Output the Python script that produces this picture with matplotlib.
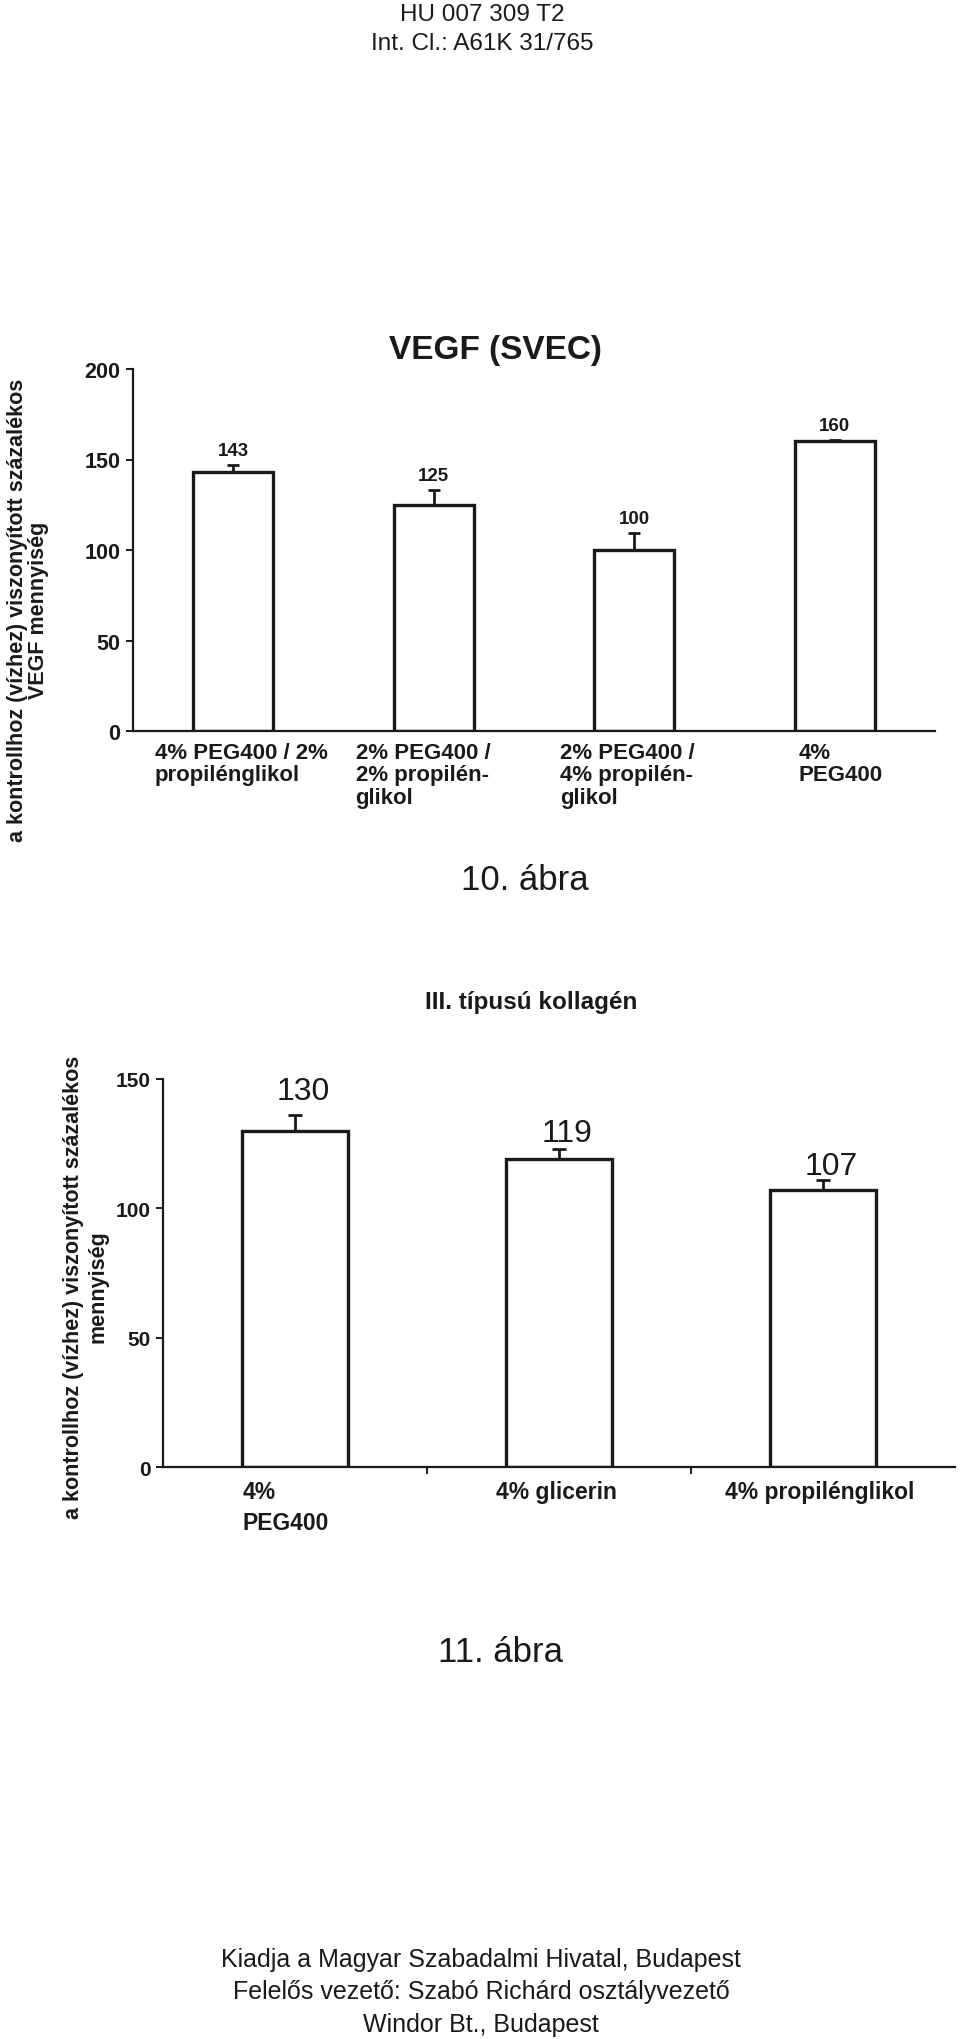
import matplotlib
matplotlib.use("Agg")
import matplotlib.pyplot as plt
import numpy as np

# --- data -------------------------------------------------------------
HEADER = ["HU 007 309 T2", "Int. Cl.: A61K 31/765"]
FOOTER = ["Kiadja a Magyar Szabadalmi Hivatal, Budapest",
          "Felelős vezető: Szabó Richárd osztályvezető",
          "Windor Bt., Budapest"]

TITLE1 = "VEGF (SVEC)"
YLABEL1 = "a kontrollhoz (vízhez) viszonyított százalékos\nVEGF mennyiség"
CATS1 = ["4% PEG400 / 2%\npropilénglikol",
         "2% PEG400 /\n2% propilén-\nglikol",
         "2% PEG400 /\n4% propilén-\nglikol",
         "4%\nPEG400"]
VEGF = [143, 125, 100, 160]
VEGF_ERR = [4, 8, 9.5, 1]
YTICKS1 = [0, 50, 100, 150, 200]
CAPTION1 = "10. ábra"

TITLE2 = "III. típusú kollagén"
YLABEL2 = "a kontrollhoz (vízhez) viszonyított százalékos\nmennyiség"
CATS2 = ["4%\nPEG400", "4% glicerin", "4% propilénglikol"]
COLL = [130, 119, 107]
COLL_ERR = [6, 4, 4]
YTICKS2 = [0, 50, 100, 150]
CAPTION2 = "11. ábra"

# --- style ------------------------------------------------------------
INK = "#1a1a1a"
SANS = ["Liberation Sans", "DejaVu Sans"]
W, H = 960, 2040


def fx(px):
    return px / W


def fy(py):
    return 1 - py / H


fig = plt.figure(figsize=(W / 100, H / 100), dpi=100)

for txt, y in zip(HEADER, [15, 44]):
    fig.text(fx(482), fy(y), txt, ha="center", va="center",
             fontsize=17.5, family=SANS, color=INK)
for txt, y in zip(FOOTER, [1960, 1992, 2025]):
    fig.text(fx(481), fy(y), txt, ha="center", va="center",
             fontsize=18, family=SANS, color=INK)


def style_axes(ax):
    for s in ("top", "right"):
        ax.spines[s].set_visible(False)
    for s in ("left", "bottom"):
        ax.spines[s].set_linewidth(1.6)
        ax.spines[s].set_color(INK)
    ax.tick_params(axis="y", direction="out", length=5, width=1.4,
                   colors=INK, pad=4)


# --- figure 10: VEGF --------------------------------------------------
ax1 = fig.add_axes([fx(133), fy(732), fx(935) - fx(133), (732 - 370) / H])
x1 = np.arange(len(VEGF))
ax1.bar(x1, VEGF, width=0.4, color="white", edgecolor=INK, linewidth=2.4,
        zorder=2)
ax1.errorbar(x1, VEGF, yerr=[np.zeros(len(VEGF)), VEGF_ERR], fmt="none",
             ecolor=INK, elinewidth=2.0, capsize=4.5, capthick=2.0, zorder=3)
for xi, v, e in zip(x1, VEGF, VEGF_ERR):
    ax1.text(xi, v + e + 8, str(v), ha="center", va="center",
             fontsize=13.5, fontweight="bold", family=SANS, color=INK)
ax1.set_xlim(-0.5, 3.5)
ax1.set_ylim(0, 200)
ax1.set_yticks(YTICKS1)
ax1.set_yticklabels([str(t) for t in YTICKS1], fontsize=15.5,
                    fontweight="bold", family=SANS, color=INK)
ax1.set_xticks([])
style_axes(ax1)

shift1 = [-0.39, -0.39, -0.37, -0.18]
for xi, lab, dx in zip(x1, CATS1, shift1):
    ax1.annotate(lab, xy=(xi + dx, 0), xycoords=("data", "axes fraction"),
                 xytext=(0, -11), textcoords="offset pixels",
                 ha="left", va="top", fontsize=16, fontweight="bold",
                 family=SANS, color=INK, linespacing=1.08)

fig.text(fx(495), fy(350), TITLE1, ha="center", va="center", fontsize=24,
         fontweight="bold", family=SANS, color=INK)
fig.text(fx(28), fy(610), YLABEL1, ha="center", va="center", rotation=90,
         fontsize=15.5, fontweight="bold", family=SANS, color=INK,
         linespacing=1.0, multialignment="center")
fig.text(fx(525), fy(881), CAPTION1, ha="center", va="center", fontsize=25,
         family=SANS, color=INK)

# --- figure 11: collagen III ------------------------------------------
ax2 = fig.add_axes([fx(163), fy(1468), fx(955) - fx(163), (1468 - 1080) / H])
x2 = np.arange(len(COLL))
ax2.bar(x2, COLL, width=0.4, color="white", edgecolor=INK, linewidth=2.4,
        zorder=2)
ax2.errorbar(x2, COLL, yerr=[np.zeros(len(COLL)), COLL_ERR], fmt="none",
             ecolor=INK, elinewidth=2.0, capsize=5, capthick=2.0, zorder=3)
lift2 = [15.5, 10, 9.5]
for xi, v, d in zip(x2, COLL, lift2):
    ax2.text(xi + 0.03, v + d, str(v), ha="center", va="center",
             fontsize=23, family=SANS, color=INK, zorder=4)
ax2.set_xlim(-0.5, 2.5)
ax2.set_ylim(0, 150)
ax2.set_yticks(YTICKS2)
ax2.set_yticklabels([str(t) for t in YTICKS2], fontsize=15,
                    fontweight="bold", family=SANS, color=INK)
ax2.set_xticks([0.5, 1.5])
ax2.set_xticklabels([])
ax2.tick_params(axis="x", direction="out", length=5, width=1.4, colors=INK)
style_axes(ax2)

# first label hangs from the bar's left edge, the others are centred
ax2.annotate(CATS2[0], xy=(x2[0] - 0.2, 0), xycoords=("data", "axes fraction"),
             xytext=(0, -13), textcoords="offset pixels", ha="left", va="top",
             fontsize=16.5, fontweight="bold", family=SANS, color=INK,
             linespacing=1.45)
for xi, lab in zip(x2[1:], CATS2[1:]):
    ax2.annotate(lab, xy=(xi, 0), xycoords=("data", "axes fraction"),
                 xytext=(-3, -13), textcoords="offset pixels", ha="center",
                 va="top", fontsize=16.5, fontweight="bold", family=SANS,
                 color=INK)

fig.text(fx(531), fy(1002), TITLE2, ha="center", va="center", fontsize=17.5,
         fontweight="bold", family=SANS, color=INK)
fig.text(fx(86), fy(1287), YLABEL2, ha="center", va="center", rotation=90,
         fontsize=15.5, fontweight="bold", family=SANS, color=INK,
         linespacing=1.25, multialignment="center")
fig.text(fx(500), fy(1653), CAPTION2, ha="center", va="center", fontsize=25,
         family=SANS, color=INK)

fig.savefig("out.png", dpi=100)
